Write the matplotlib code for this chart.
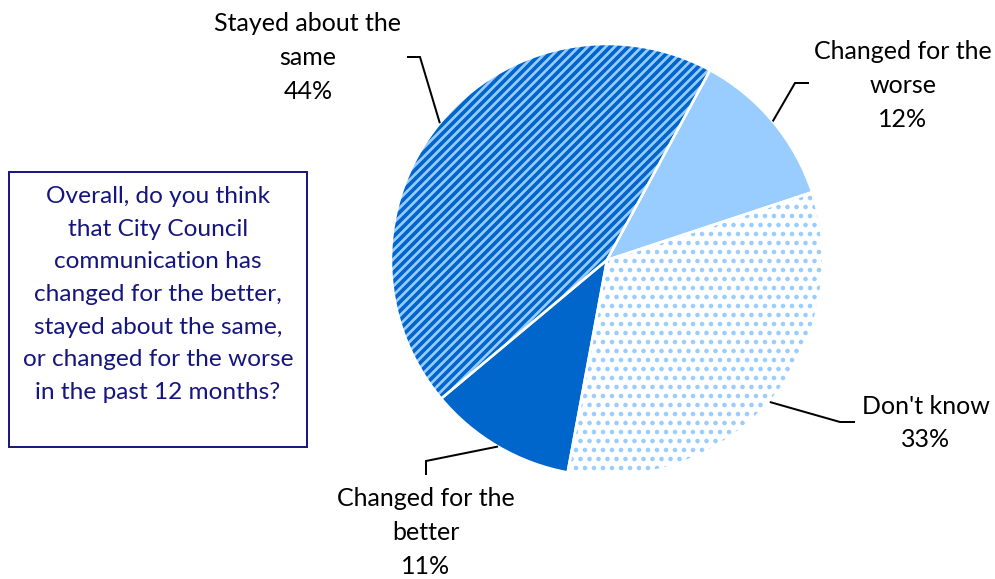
import numpy as np
import matplotlib
matplotlib.use("Agg")
import matplotlib.pyplot as plt
from matplotlib.patches import Rectangle

# ---- data ----
categories = ["Changed for the\nbetter", "Stayed about the\nsame", "Changed for the\nworse", "Don't know"]
values = [11, 44, 12, 33]
pct_labels = ["11%", "44%", "12%", "33%"]
question = ("Overall, do you think\nthat City Council\ncommunication has\nchanged for the better,\n"
            "stayed about the same,\nor changed for the worse\nin the past 12 months?")

# ---- style / layout ----
W, H, DPI = 996, 579, 54
PX = 72.0 / DPI          # points per pixel
plt.rcParams['font.family'] = ['Lato', 'DejaVu Sans']
plt.rcParams['hatch.linewidth'] = 3.2 * PX

face_colors = ['#0066CC', '#99CCFF', '#99CCFF', '#FFFFFF']
hatches = [None, '//', None, '.']
hatch_colors = ['#0066CC', '#0066CC', '#99CCFF', '#99CCFF']
hatch_lw = [1.0, 3.7 * PX, 1.0, 2.7 * PX]

FS = 25.0 * PX
FS_BOX = 24.4 * PX
LS = 1.57
LS_BOX = 1.68

cx, cy, R = 607, H - 260, 216
start = -100.5

fig = plt.figure(figsize=(W / DPI, H / DPI), dpi=DPI)
ax = fig.add_axes([0, 0, 1, 1])

wedges, _ = ax.pie(values, center=(cx, cy), radius=R, startangle=start,
                   counterclock=False, colors=face_colors,
                   wedgeprops=dict(linewidth=0))
for w, h, hc, hl in zip(wedges, hatches, hatch_colors, hatch_lw):
    w.set_edgecolor(hc)
    w.set_linewidth(0)
    if h:
        w.set_hatch(h)
    try:
        w.set_hatch_linewidth(hl)
    except AttributeError:
        w._hatch_linewidth = hl

# white separators
ax.pie(values, center=(cx, cy), radius=R, startangle=start, counterclock=False,
       colors=['none'] * 4, wedgeprops=dict(linewidth=2.5 * PX, edgecolor='white', fill=False))

ax.set_xlim(0, W)
ax.set_ylim(0, H)
ax.set_aspect('equal')
ax.axis('off')

# label layout: elbow point, end of short segment, text center (pixel coords from top)
label_layout = [
    dict(elbow=(426, 461), end=(426, 475), text=(426, 532.5)),
    dict(elbow=(420, 57), end=(407, 57), text=(308, 57.5)),
    dict(elbow=(795, 83), end=(809, 83), text=(903, 85.5)),
    dict(elbow=(840, 422), end=(855, 422), text=(926, 423)),
]

for i, (w, lay) in enumerate(zip(wedges, label_layout)):
    mid = np.deg2rad((w.theta1 + w.theta2) / 2)
    px = cx + R * np.cos(mid)
    py = cy + R * np.sin(mid)
    ex, ey = lay['elbow']
    fx, fy = lay['end']
    ax.plot([px, ex, fx], [py, H - ey, H - fy], color='black', lw=2.0 * PX,
            solid_capstyle='butt', solid_joinstyle='miter')
    tx, ty = lay['text']
    ax.text(tx, H - ty, categories[i] + "\n" + pct_labels[i], ha='center', va='center',
            fontsize=FS, color='black', linespacing=LS, multialignment='center')

# question box
ax.add_patch(Rectangle((9, H - 447), 298, 275, facecolor='white', edgecolor='#1A1A80', lw=2.0 * PX))
ax.text(158, H - 294.5, question, ha='center', va='center', fontsize=FS_BOX, color='#15157F',
        linespacing=LS_BOX, multialignment='center')

fig.savefig('out.png', dpi=DPI)
